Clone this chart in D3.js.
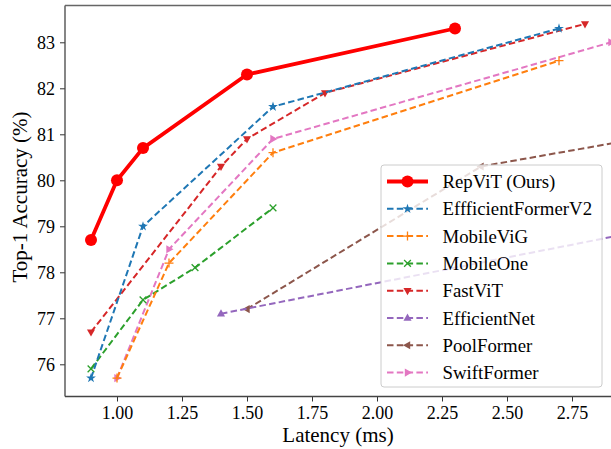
<!DOCTYPE html>
<html>
<head>
<meta charset="utf-8">
<script src="https://cdn.jsdelivr.net/npm/d3@7"></script>
<style>
  body { margin: 0; background: #fff; }
  svg { display: block; font-family: "Liberation Serif", "DejaVu Serif", serif; }
</style>
</head>
<body>
<svg id="chart" width="611" height="449"></svg>
<script>
// data (latency ms, top-1 %)
const repvit = [[0.9, 78.7], [1.0, 80.0], [1.1, 80.7], [1.5, 82.3], [2.3, 83.3]];
const effformerv2 = [[0.9, 75.7], [1.1, 79.0], [1.6, 81.6], [2.7, 83.3]];
const mobilevig = [[1.0, 75.7], [1.2, 78.2], [1.6, 80.6], [2.7, 82.6]];
const mobileone = [[0.9, 75.9], [1.1, 77.4], [1.3, 78.1], [1.6, 79.4]];
const fastvit = [[0.9, 76.7], [1.4, 80.3], [1.5, 80.9], [1.8, 81.9], [2.8, 83.4]];
const efficientnet = [[1.4, 77.1], [3.2, 79.1]];
const poolformer = [[1.5, 77.2], [2.4, 80.3], [3.5, 81.4]];
const swiftformer = [[1.0, 75.7], [1.2, 78.5], [1.6, 80.9], [2.9, 83.0]];

const xTicks = [1.0, 1.25, 1.5, 1.75, 2.0, 2.25, 2.5, 2.75];
const yTicks = [76, 77, 78, 79, 80, 81, 82, 83];

const series = [
  { name: "RepViT (Ours)", data: repvit, color: "#ff0000", marker: "circle", width: 3.8, dash: null },
  { name: "EffficientFormerV2", data: effformerv2, color: "#1f77b4", marker: "star" },
  { name: "MobileViG", data: mobilevig, color: "#ff7f0e", marker: "plus" },
  { name: "MobileOne", data: mobileone, color: "#2ca02c", marker: "x" },
  { name: "FastViT", data: fastvit, color: "#d62728", marker: "down" },
  { name: "EfficientNet", data: efficientnet, color: "#9467bd", marker: "up" },
  { name: "PoolFormer", data: poolformer, color: "#8c564b", marker: "left" },
  { name: "SwiftFormer", data: swiftformer, color: "#e377c2", marker: "right" }
];

const svg = d3.select("#chart");
const marginLeft = 65, plotTop = 5.5, plotBottom = 396.5;

const x = d3.scaleLinear().domain([0.8, 3.0]).range([marginLeft, marginLeft + 2.2 * 260]);
const y = d3.scaleLinear().domain([75.3, 83.8]).range([plotBottom, plotTop]);

svg.append("defs").append("clipPath").attr("id", "plot-clip")
  .append("rect")
  .attr("x", marginLeft).attr("y", plotTop)
  .attr("width", x.range()[1] - marginLeft).attr("height", plotBottom - plotTop);

const plot = svg.append("g").attr("clip-path", "url(#plot-clip)");

const line = d3.line().x(d => x(d[0])).y(d => y(d[1]));

function drawMarker(g, type, color, size) {
  const s = size;
  if (type === "circle") {
    g.append("circle").attr("r", 6).attr("fill", color);
  } else if (type === "star") {
    g.append("path").attr("d", d3.symbol(d3.symbolStar, 30)()).attr("fill", color);
  } else if (type === "plus") {
    g.append("path").attr("d", `M${-s},0H${s}M0,${-s}V${s}`)
      .attr("stroke", color).attr("stroke-width", 1.3).attr("fill", "none");
  } else if (type === "x") {
    const a = s * 0.75;
    g.append("path").attr("d", `M${-a},${-a}L${a},${a}M${-a},${a}L${a},${-a}`)
      .attr("stroke", color).attr("stroke-width", 1.3).attr("fill", "none");
  } else {
    const rot = { up: 0, down: 180, left: -90, right: 90 }[type];
    g.append("path").attr("d", `M0,${-s}L${s * 0.9},${s * 0.6}L${-s * 0.9},${s * 0.6}Z`)
      .attr("transform", `rotate(${rot})`).attr("fill", color);
  }
}

// lines drawn from the last series back so RepViT sits on top
series.slice().reverse().forEach(sr => {
  plot.append("path")
    .datum(sr.data)
    .attr("fill", "none")
    .attr("stroke", sr.color)
    .attr("stroke-width", sr.width || 2)
    .attr("stroke-dasharray", sr.dash === null ? null : "6.5,3.3")
    .attr("d", line);
  sr.data.forEach(d => {
    const g = plot.append("g").attr("transform", `translate(${x(d[0])},${y(d[1])})`);
    drawMarker(g, sr.marker, sr.color, 4.5);
  });
});

// axes
const xAxis = svg.append("g")
  .attr("transform", `translate(0,${plotBottom})`)
  .call(d3.axisBottom(x).tickValues(xTicks).tickFormat(d3.format(".2f")).tickSize(5).tickPadding(5));
const yAxis = svg.append("g")
  .attr("transform", `translate(${marginLeft},0)`)
  .call(d3.axisLeft(y).tickValues(yTicks).tickFormat(d3.format("d")).tickSize(5).tickPadding(5));

[xAxis, yAxis].forEach(a => {
  a.select(".domain").remove();
  a.selectAll(".tick line").attr("stroke", "#333").attr("stroke-width", 1);
  a.selectAll(".tick text").attr("font-size", 18).attr("fill", "#000")
    .attr("font-family", "Liberation Serif, serif");
});

// spines: left, bottom, top (right side runs off the picture)
svg.append("line").attr("x1", marginLeft).attr("x2", marginLeft).attr("y1", plotTop).attr("y2", plotBottom)
  .attr("stroke", "#444").attr("stroke-width", 1.3);
svg.append("line").attr("x1", marginLeft).attr("x2", 611).attr("y1", plotBottom).attr("y2", plotBottom)
  .attr("stroke", "#444").attr("stroke-width", 1.3);
svg.append("line").attr("x1", marginLeft).attr("x2", 611).attr("y1", plotTop).attr("y2", plotTop)
  .attr("stroke", "#666").attr("stroke-width", 1.3);

svg.append("text")
  .attr("x", 338).attr("y", 441.5)
  .attr("text-anchor", "middle")
  .attr("font-size", 21)
  .text("Latency (ms)");
svg.append("text")
  .attr("transform", "translate(27,197) rotate(-90)")
  .attr("text-anchor", "middle")
  .attr("font-size", 21)
  .text("Top-1 Accuracy (%)");

// legend
const lg = svg.append("g").attr("transform", "translate(381,165)");
lg.append("rect")
  .attr("width", 221).attr("height", 222).attr("rx", 3)
  .attr("fill", "#fff").attr("fill-opacity", 0.8)
  .attr("stroke", "#ccc").attr("stroke-width", 1);

series.forEach((sr, i) => {
  const cy = 16.5 + i * 27.3;
  const g = lg.append("g").attr("transform", `translate(0,${cy})`);
  g.append("line")
    .attr("x1", 6).attr("x2", 47).attr("y1", 0).attr("y2", 0)
    .attr("stroke", sr.color)
    .attr("stroke-width", sr.width || 2)
    .attr("stroke-dasharray", sr.dash === null ? null : "6.5,3.3");
  const m = g.append("g").attr("transform", "translate(26.5,0)");
  drawMarker(m, sr.marker, sr.color, 4.5);
  g.append("text")
    .attr("x", 61.5).attr("y", 0).attr("dy", "0.35em")
    .attr("font-size", 18.8)
    .text(sr.name);
});
</script>
</body>
</html>
